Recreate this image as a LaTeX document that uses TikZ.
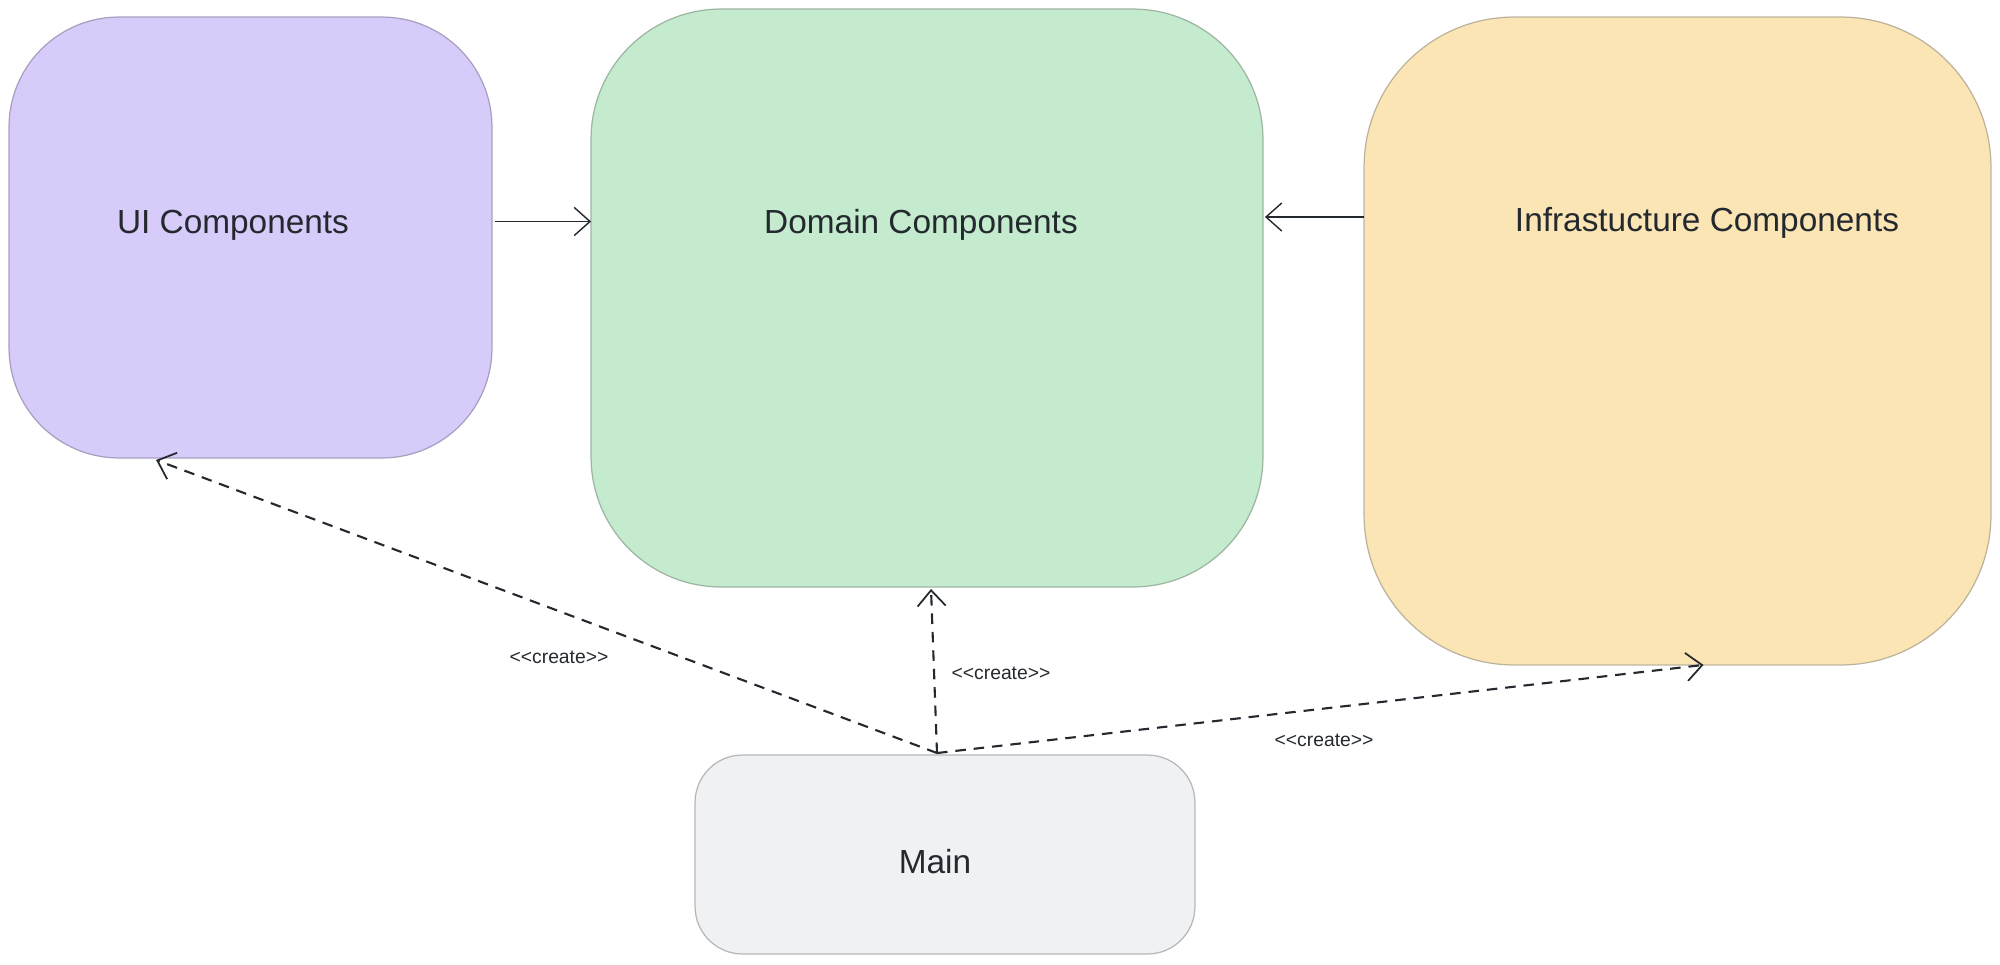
\documentclass[tikz,border=0pt]{standalone}
\usepackage{fontspec}
\setmainfont{Liberation Sans}
\usetikzlibrary{arrows.meta,calc}
\definecolor{uifill}{HTML}{D7CBF9}
\definecolor{uidraw}{HTML}{A89FC0}
\definecolor{domfill}{HTML}{C4EBCD}
\definecolor{domdraw}{HTML}{9DB5A3}
\definecolor{inffill}{HTML}{FBE5B4}
\definecolor{infdraw}{HTML}{BDB39C}
\definecolor{mainfill}{HTML}{F0F1F3}
\definecolor{maindraw}{HTML}{B5B7BB}
\definecolor{ink}{HTML}{24292F}
\newcommand{\createtxt}{<\kern0pt<create>\kern0pt>}
\tikzset{
  box/.style={draw, line width=0.7pt, inner sep=0pt, outer sep=0pt},
  boxtext/.style={text=ink, font=\fontsize{19}{22}\selectfont},
  crlabel/.style={text=ink, font=\fontsize{11}{13}\selectfont},
  solidarrow/.style={draw=ink, line width=0.8pt, -{Straight Barb[length=9pt,width=16pt]}},
  createarrow/.style={draw=ink, line width=1.2pt, dash pattern=on 6pt off 4.5pt, -{Straight Barb[length=9pt,width=16pt,line width=1pt]}}
}
\begin{document}
\begin{tikzpicture}[x=0.02cm,y=-0.02cm]
\useasboundingbox (0,0) rectangle (2000,964);
% boxes
\node[box, fill=uifill, draw=uidraw, rounded corners=2.2cm, minimum width=9.66cm, minimum height=8.82cm] (ui) at (250.5,237.5) {};
\node[box, fill=domfill, draw=domdraw, rounded corners=2.6cm, minimum width=13.44cm, minimum height=11.56cm] (domain) at (927,298) {};
\node[box, fill=inffill, draw=infdraw, rounded corners=3cm, minimum width=12.54cm, minimum height=12.96cm] (infra) at (1677.5,341) {};
\node[box, fill=mainfill, draw=maindraw, rounded corners=0.95cm, minimum width=10cm, minimum height=3.98cm] (main) at (945,854.5) {};
% box texts
\node[boxtext] (uit) at (233,225) {UI Components};
\node[boxtext] (domt) at (921,225) {Domain Components};
\node[boxtext] (inft) at (1707,223) {Infrastucture Components};
\node[boxtext] (maint) at (935,862) {Main};
% solid arrows
\draw[solidarrow] ($(ui.east)+(3,-16)$) -- ($(domain.west |- ui.east)+(0,-16)$);
\draw[solidarrow] ($(infra.west)+(0,-124)$) -- ($(domain.east |- infra.west)+(2,-124)$);
% dashed create arrows
\draw[createarrow] ($(main.north)+(-8,-2)$) -- ($(ui.south west)+(147,2)$);
\draw[createarrow] ($(main.north)+(-8,-2)$) -- ($(domain.south)+(4,2)$);
\draw[createarrow] ($(main.north)+(-8,-2)$) -- ($(infra.south)+(26,0)$);
% labels
\node[crlabel] (c1) at (559,657) {\createtxt};
\node[crlabel] (c2) at (1001,673) {\createtxt};
\node[crlabel] (c3) at (1324,740) {\createtxt};
\end{tikzpicture}
\end{document}
